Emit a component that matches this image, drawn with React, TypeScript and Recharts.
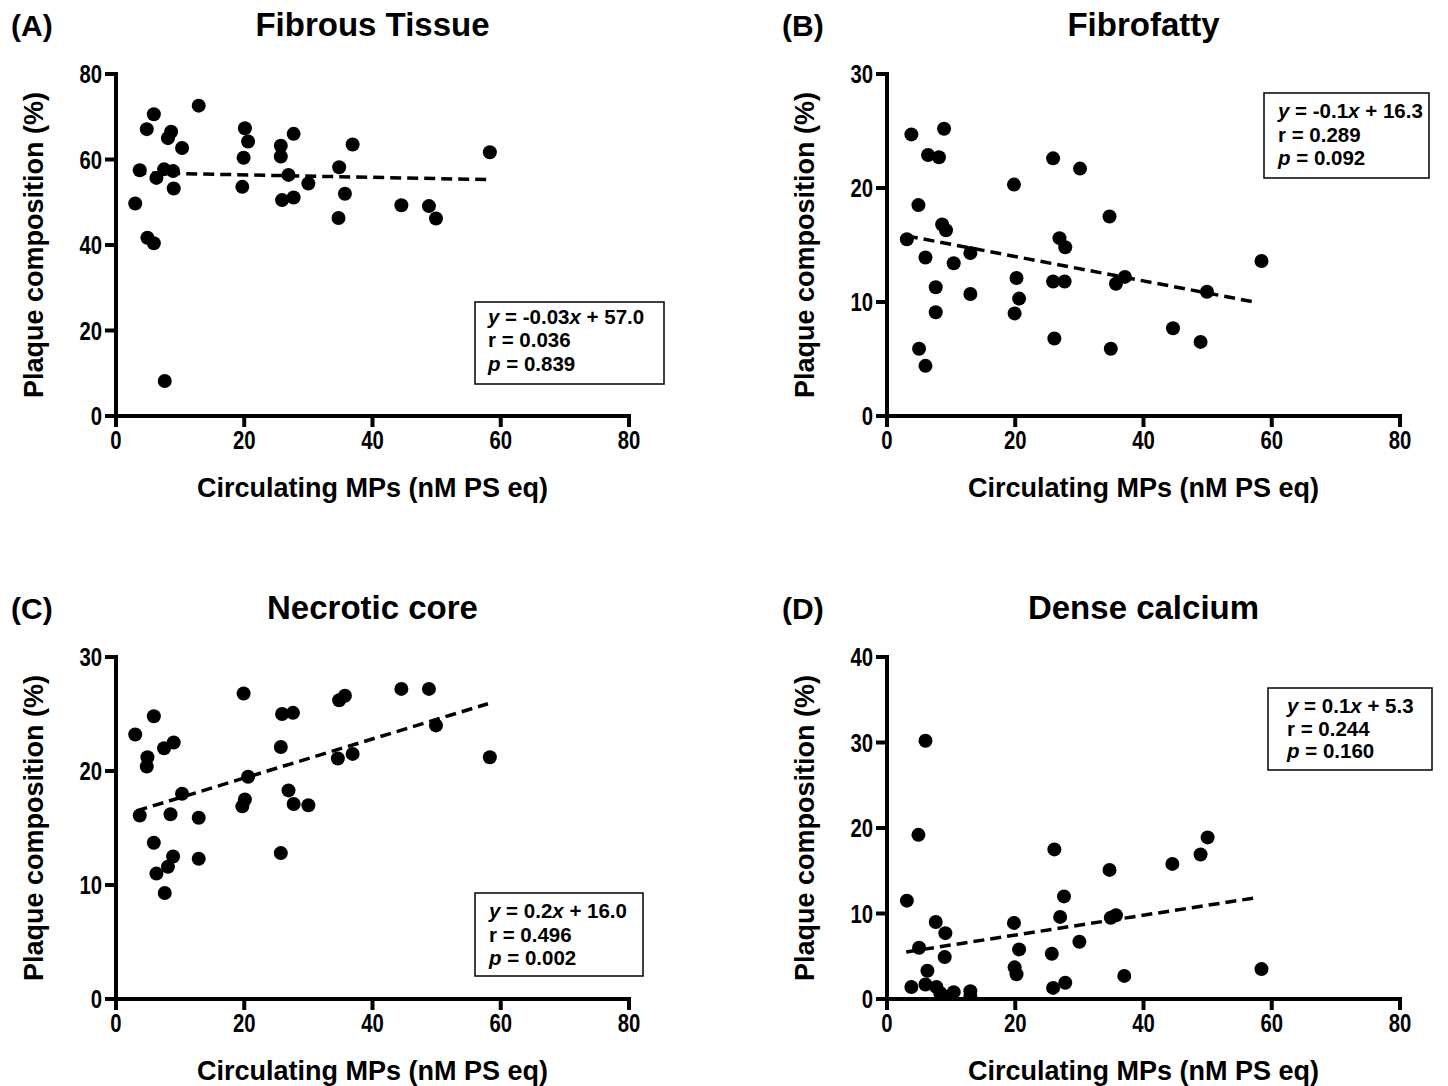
import React from 'react';
import { ScatterChart, Scatter, XAxis, YAxis, ReferenceLine } from 'recharts';

// ---------- data ----------
const xTicks = [0, 20, 40, 60, 80];
const yTicksA = [0, 20, 40, 60, 80];
const yTicksB = [0, 10, 20, 30];
const yTicksC = [0, 10, 20, 30];
const yTicksD = [0, 10, 20, 30, 40];

const titles = ['Fibrous Tissue', 'Fibrofatty', 'Necrotic core', 'Dense calcium'];
const panelLabels = ['(A)', '(B)', '(C)', '(D)'];
const xLabel = 'Circulating MPs (nM PS eq)';
const yLabel = 'Plaque composition (%)';

const fibrousX = [12.9, 5.9, 4.8, 8.6, 8.1, 10.3, 20.1, 20.6, 19.9, 19.7, 25.7, 25.7, 27.7, 26.9, 25.9, 27.7, 30.0, 34.8, 36.9, 35.7, 34.7, 44.5, 48.8, 49.9, 58.3, 3.7, 3.0, 6.3, 7.5, 8.9, 9.0, 4.9, 5.9, 7.6];
const fibrousY = [72.6, 70.6, 67.1, 66.5, 65.0, 62.7, 67.3, 64.2, 60.4, 53.6, 63.2, 60.7, 66.0, 56.4, 50.5, 51.1, 54.4, 58.2, 63.5, 52.0, 46.3, 49.3, 49.1, 46.2, 61.7, 57.5, 49.7, 55.7, 57.7, 57.3, 53.2, 41.7, 40.4, 8.2];

const fibrofattyX = [3.8, 8.9, 6.4, 8.1, 19.8, 25.9, 30.1, 4.9, 8.6, 9.2, 3.1, 26.9, 27.8, 34.7, 6.0, 10.4, 13.0, 7.6, 13.0, 7.6, 20.2, 20.6, 19.9, 25.9, 27.7, 37.1, 35.7, 58.4, 49.9, 26.1, 34.9, 44.6, 48.9, 5.0, 6.0];
const fibrofattyY = [24.7, 25.2, 22.9, 22.7, 20.3, 22.6, 21.7, 18.5, 16.8, 16.3, 15.5, 15.6, 14.8, 17.5, 13.9, 13.4, 14.3, 11.3, 10.7, 9.1, 12.1, 10.3, 9.0, 11.8, 11.8, 12.2, 11.6, 13.6, 10.9, 6.8, 5.9, 7.7, 6.5, 5.9, 4.4];

const necroticX = [19.9, 44.5, 48.8, 34.8, 35.7, 5.9, 25.9, 27.6, 3.0, 49.9, 7.5, 9.0, 4.9, 4.8, 25.7, 34.6, 36.9, 58.3, 20.6, 10.3, 26.9, 27.7, 30.0, 20.1, 19.7, 3.7, 8.5, 12.9, 5.9, 8.9, 8.1, 6.3, 12.9, 25.7, 7.6];
const necroticY = [26.8, 27.2, 27.2, 26.2, 26.6, 24.8, 25.0, 25.1, 23.2, 24.0, 22.0, 22.5, 21.2, 20.4, 22.1, 21.1, 21.5, 21.2, 19.5, 18.0, 18.3, 17.1, 17.0, 17.5, 16.9, 16.1, 16.2, 15.9, 13.7, 12.5, 11.6, 11.0, 12.3, 12.8, 9.3];

const calciumX = [6.0, 4.9, 26.1, 50.0, 48.9, 44.5, 34.7, 27.6, 3.1, 27.0, 34.9, 35.7, 7.6, 19.8, 9.1, 5.0, 9.0, 20.6, 30.0, 25.7, 6.3, 19.9, 20.2, 37.0, 58.4, 3.8, 6.0, 7.7, 8.3, 10.4, 13.0, 13.0, 25.9, 27.8, 8.9];
const calciumY = [30.2, 19.2, 17.5, 18.9, 16.9, 15.8, 15.1, 12.0, 11.5, 9.6, 9.5, 9.8, 9.0, 8.9, 7.7, 6.0, 4.9, 5.8, 6.7, 5.3, 3.3, 3.7, 2.9, 2.7, 3.5, 1.4, 1.7, 1.4, 0.7, 0.8, 0.9, 0.35, 1.3, 1.9, 0.3];

// trend line endpoints [x1, y1, x2, y2]
const trendA = [3.0, 56.9, 58.0, 55.3];
const trendB = [3.1, 15.8, 57.3, 10.0];
const trendC = [3.2, 16.5, 58.0, 25.9];
const trendD = [3.0, 5.5, 57.6, 11.85];

// regression stats: [slope, intercept, r, p]
const statsA = ['-0.03', '57.0', '0.036', '0.839'];
const statsB = ['-0.1', '16.3', '0.289', '0.092'];
const statsC = ['0.2', '16.0', '0.496', '0.002'];
const statsD = ['0.1', '5.3', '0.244', '0.160'];

// ---------- styling ----------
const LABEL_FONT = "'Liberation Sans', Arial, Helvetica, sans-serif";

const CW = 677;
const CH = 503;

const Dot = (props: any) => {
  const { cx, cy } = props;
  if (cx == null || cy == null) return null;
  return <circle cx={cx} cy={cy} r={7} fill="#000" />;
};

const tickFont = { fill: '#000', fontSize: 26, fontWeight: 700, fontFamily: LABEL_FONT } as any;

const XTick = (props: any) => {
  const { x, y, payload } = props;
  return (
    <g transform={`translate(${x},${y})`}>
      <text transform="scale(0.78,1)" textAnchor="middle" dy="0.72em" style={tickFont}>
        {payload.value}
      </text>
    </g>
  );
};

const YTick = (props: any) => {
  const { x, y, payload } = props;
  return (
    <g transform={`translate(${x},${y})`}>
      <text transform="scale(0.78,1)" textAnchor="end" dy="0.36em" style={tickFont}>
        {payload.value}
      </text>
    </g>
  );
};

const axisLineStyle = { stroke: '#000', strokeWidth: 4, strokeLinecap: 'square' as const };
const tickLineStyle = { stroke: '#000', strokeWidth: 4 };

function Panel(props: {
  left: number; top: number; xs: number[]; ys: number[]; yMax: number; yTicks: number[]; trend: number[];
}) {
  const { left, top, xs, ys, yMax, yTicks, trend } = props;
  const data = xs.map((x, i) => ({ x, y: ys[i] }));
  return (
    <div style={{ position: 'absolute', left, top, width: CW, height: CH }}>
      <ScatterChart width={CW} height={CH} margin={{ top: 74, right: 48, bottom: 47, left: 56 }}>
        <XAxis
          type="number"
          dataKey="x"
          domain={[0, 80]}
          ticks={xTicks}
          interval={0}
          height={40}
          axisLine={axisLineStyle}
          tickLine={tickLineStyle}
          tickSize={11}
          tickMargin={3}
          tick={<XTick />}
          allowDataOverflow
        />
        <YAxis
          type="number"
          dataKey="y"
          domain={[0, yMax]}
          ticks={yTicks}
          interval={0}
          width={60}
          axisLine={axisLineStyle}
          tickLine={tickLineStyle}
          tickSize={11}
          tickMargin={3}
          tick={<YTick />}
          allowDataOverflow
        />
        <ReferenceLine
          segment={[{ x: trend[0], y: trend[1] }, { x: trend[2], y: trend[3] }]}
          stroke="#000"
          strokeWidth={3.5}
          strokeDasharray="11 6"
        />
        <Scatter data={data} fill="#000" shape={Dot} isAnimationActive={false} />
      </ScatterChart>
    </div>
  );
}

function StatBox(props: { x: number; y: number; w: number; h: number; tx: number; b1: number; gap: number; s: string[] }) {
  const { x, y, w, h, tx, b1, gap, s } = props;
  const st = { fontFamily: LABEL_FONT, fontWeight: 700, fontSize: 20.5, fill: '#000' } as any;
  return (
    <g>
      <rect x={x} y={y} width={w} height={h} fill="#fff" stroke="#000" strokeWidth={1.5} />
      <text x={tx} y={b1} style={st}>
        <tspan fontStyle="italic">y</tspan> = {s[0]}<tspan fontStyle="italic">x</tspan> + {s[1]}
      </text>
      <text x={tx} y={b1 + gap} style={st}>r = {s[2]}</text>
      <text x={tx} y={b1 + gap * 2} style={st}>
        <tspan fontStyle="italic">p</tspan> = {s[3]}
      </text>
    </g>
  );
}

export default function App() {
  const offsets = [
    [0, 0],
    [771, 0],
    [0, 583],
    [771, 583],
  ];
  const titleStyle = { fontFamily: LABEL_FONT, fontWeight: 700, fontSize: 33, fill: '#000' } as any;
  const panelStyle = { fontFamily: LABEL_FONT, fontWeight: 700, fontSize: 30, fill: '#000' } as any;
  const axisStyle = { fontFamily: LABEL_FONT, fontWeight: 700, fontSize: 27, fill: '#000' } as any;
  return (
    <div style={{ position: 'absolute', left: 0, top: 0, width: 1448, height: 1086, background: '#fff', overflow: 'hidden' }}>
      <Panel left={0} top={0} xs={fibrousX} ys={fibrousY} yMax={80} yTicks={yTicksA} trend={trendA} />
      <Panel left={771} top={0} xs={fibrofattyX} ys={fibrofattyY} yMax={30} yTicks={yTicksB} trend={trendB} />
      <Panel left={0} top={583} xs={necroticX} ys={necroticY} yMax={30} yTicks={yTicksC} trend={trendC} />
      <Panel left={771} top={583} xs={calciumX} ys={calciumY} yMax={40} yTicks={yTicksD} trend={trendD} />
      <svg width={1448} height={1086} style={{ position: 'absolute', left: 0, top: 0, pointerEvents: 'none' }}>
        {offsets.map(([ox, oy], i) => (
          <g key={i}>
            <text x={ox + 11} y={oy + 36} style={panelStyle}>{panelLabels[i]}</text>
            <text x={ox + 372.5} y={oy + 36} textAnchor="middle" style={titleStyle}>{titles[i]}</text>
            <text x={ox + 372.5} y={oy + 497} textAnchor="middle" style={axisStyle}>{xLabel}</text>
            <text
              x={ox + 43}
              y={oy + 245}
              textAnchor="middle"
              transform={`rotate(-90, ${ox + 43}, ${oy + 245})`}
              style={axisStyle}
            >
              {yLabel}
            </text>
          </g>
        ))}
        <StatBox x={475} y={302} w={189} h={82} tx={488} b1={324} gap={23.3} s={statsA} />
        <StatBox x={1264} y={93} w={165} h={85} tx={1278} b1={118} gap={23.5} s={statsB} />
        <StatBox x={475} y={893} w={168} h={83} tx={489} b1={918} gap={23.5} s={statsC} />
        <StatBox x={1268} y={688} w={164} h={82} tx={1287} b1={713} gap={22.7} s={statsD} />
      </svg>
    </div>
  );
}
